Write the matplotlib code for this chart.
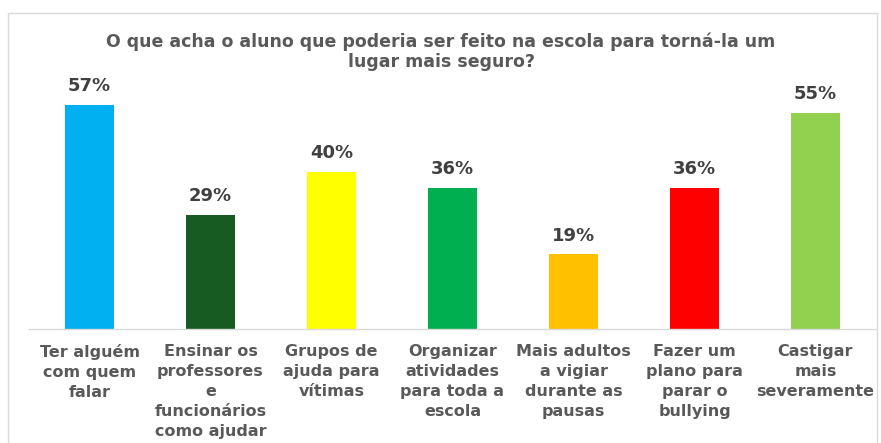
import matplotlib.pyplot as plt
from matplotlib.patches import Rectangle

# Data
categories = [
    "Ter alguém\ncom quem\nfalar",
    "Ensinar os\nprofessores\ne\nfuncionários\ncomo ajudar",
    "Grupos de\najuda para\nvítimas",
    "Organizar\natividades\npara toda a\nescola",
    "Mais adultos\na vigiar\ndurante as\npausas",
    "Fazer um\nplano para\nparar o\nbullying",
    "Castigar\nmais\nseveramente",
]
values = [57, 29, 40, 36, 19, 36, 55]
colors = ["#00B0F0", "#185B22", "#FFFF00", "#00B050", "#FFC000", "#FF0000", "#92D050"]

title = "O que acha o aluno que poderia ser feito na escola para torná-la um\nlugar mais seguro?"

plt.rcParams['font.family'] = ['DejaVu Sans']
text_col = "#595959"

fig = plt.figure(figsize=(8.81, 4.43), dpi=100)
W, H = 881, 443

# outer chart frame
fig.patches.append(Rectangle((8 / W, -0.05), 869 / W, 1.05 - 13 / H,
                             transform=fig.transFigure, fill=False,
                             edgecolor="#D9D9D9", linewidth=1))

ax = fig.add_axes([29 / W, (H - 329) / H, 847 / W, 259 / H])
x = range(len(values))
bars = ax.bar(x, values, width=0.4, color=colors)
ax.set_xlim(-0.5, len(values) - 0.5)
ax.set_ylim(0, 65.9)

for b, v in zip(bars, values):
    ax.annotate(f"{v}%", (b.get_x() + b.get_width() / 2, v),
                xytext=(0, 7), textcoords="offset points",
                ha="center", va="bottom", fontsize=13,
                fontweight="bold", color="#404040")

ax.set_xticks(list(x))
ax.set_xticklabels(categories, fontsize=11.5, fontweight="bold",
                   color=text_col, linespacing=1.42)
ax.tick_params(axis="x", length=0, pad=11)
ax.set_yticks([])
for s in ["top", "right", "left"]:
    ax.spines[s].set_visible(False)
ax.spines["bottom"].set_color("#D9D9D9")
ax.spines["bottom"].set_linewidth(1)

fig.text(441 / W, 1 - 52 / H, title, ha="center", va="center",
         fontsize=12.5, fontweight="bold", color=text_col, linespacing=1.15)

fig.savefig("out.png", dpi=100)
